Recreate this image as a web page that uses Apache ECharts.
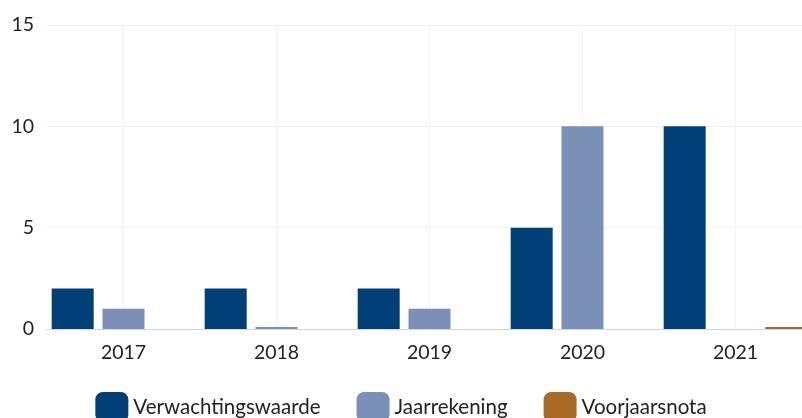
<!DOCTYPE html>
<html>
<head>
<meta charset="utf-8">
<script src="https://cdn.jsdelivr.net/npm/echarts@6/dist/echarts.min.js"></script>
<style>
  html, body { margin: 0; padding: 0; background: #fff; }
  #holder { width: 802px; height: 418px; }
</style>
</head>
<body>
<div id="holder"></div>
<script>
var jaren = ['2017', '2018', '2019', '2020', '2021']
var verwachtingswaarde = [2, 2, 2, 5, 10]
var jaarrekening = [1, 0, 1, 10, null]
var voorjaarsnota = [null, null, null, null, 0]
var yTicks = [0, 5, 10, 15]

var font = 'Lato, "Noto Sans", sans-serif'

function bar(name, values, color) {
  return {
    name: name,
    type: 'bar',
    data: values,
    barWidth: 42,
    barGap: '21%',
    barMinHeight: 2,
    itemStyle: { color: color },
    z: 3
  }
}

var myChart = echarts.init(document.getElementById('holder'))

var option = {
  animation: false,
  textStyle: { fontFamily: font },
  // de grafiek loopt rechts iets buiten beeld door
  grid: { left: 47, width: 765, top: 25, height: 304, outerBoundsMode: 'none', containLabel: false },
  legend: {
    data: ['Verwachtingswaarde', 'Jaarrekening', 'Voorjaarsnota'],
    left: 'center',
    top: 392,
    padding: 0,
    itemWidth: 33,
    itemHeight: 30,
    itemGap: 36,
    icon: 'roundRect',
    textStyle: { fontFamily: font, fontSize: 20.5, color: '#222' }
  },
  xAxis: {
    type: 'category',
    data: jaren,
    axisTick: { show: false },
    axisLine: { lineStyle: { color: '#ccd6eb', width: 1 } },
    axisLabel: { fontFamily: font, fontSize: 19.5, color: '#222', margin: 14 },
    splitLine: { show: false }
  },
  yAxis: {
    type: 'value',
    min: yTicks[0],
    max: yTicks[yTicks.length - 1],
    interval: 5,
    axisLine: { show: false },
    axisTick: { show: false },
    axisLabel: { fontFamily: font, fontSize: 19.5, color: '#222', margin: 13 },
    splitLine: { lineStyle: { color: '#f3f3f3', width: 1 } }
  },
  series: [
    // verticale rasterlijnen op het midden van elke categorie, achter de staven
    {
      type: 'line',
      data: jaren.map(function () { return null }),
      z: 1,
      silent: true,
      markLine: {
        z: 1,
        silent: true,
        symbol: ['none', 'none'],
        label: { show: false },
        lineStyle: { color: '#f3f3f3', width: 1, type: 'solid' },
        data: jaren.map(function (j) { return { xAxis: j } })
      }
    },
    bar('Verwachtingswaarde', verwachtingswaarde, '#004077'),
    bar('Jaarrekening', jaarrekening, '#7a90b6'),
    bar('Voorjaarsnota', voorjaarsnota, '#a86a24')
  ]
}

myChart.setOption(option)
</script>
</body>
</html>
